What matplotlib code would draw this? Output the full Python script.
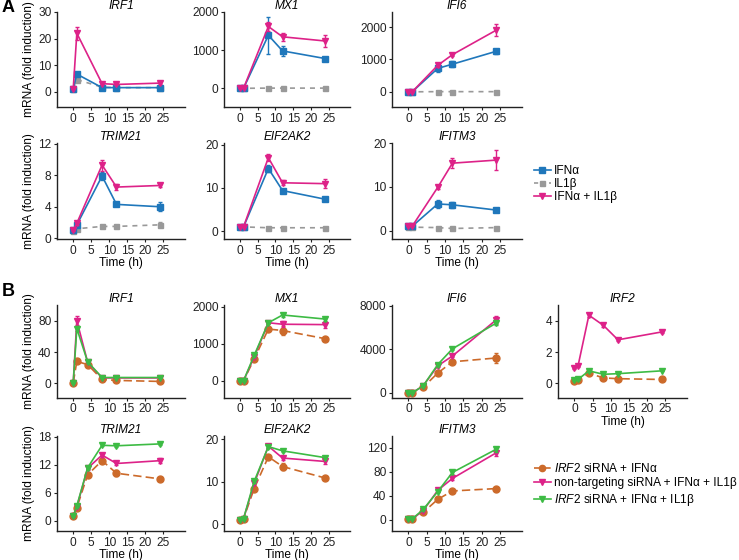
import matplotlib
matplotlib.use("Agg")
import matplotlib.pyplot as plt
from matplotlib.lines import Line2D

plt.rcParams["font.family"] = ["Liberation Sans", "DejaVu Sans"]
plt.rcParams["mathtext.fontset"] = "custom"
plt.rcParams["mathtext.rm"] = "Liberation Sans"
plt.rcParams["mathtext.it"] = "Liberation Sans:italic"

# ---- data: panel A (time course, 3 treatments) ----
A_TIMES = [0, 1, 8, 12, 24]
A_GENES = ["IRF1", "MX1", "IFI6", "TRIM21", "EIF2AK2", "IFITM3"]
A_IFNA = [
    [1, 6.6, 1.5, 1.5, 1.5],
    [0, 0, 1390, 980, 780],
    [0, 0, 725, 855, 1255],
    [1.0, 1.7, 7.9, 4.3, 4.0],
    [1, 1, 14.5, 9.4, 7.4],
    [1, 1, 6.1, 5.9, 4.7],
]
A_IFNA_ERR = [
    [0, 0.8, 0.2, 0.2, 0.2],
    [0, 0, 480, 130, 30],
    [0, 0, 110, 90, 70],
    [0.1, 0.1, 0.5, 0.25, 0.6],
    [0, 0, 0.8, 0.3, 0.2],
    [0, 0, 0.9, 0.7, 0.2],
]
A_IL1B = [
    [1, 4.5, 1.7, 1.5, 1.5],
    [0, 0, 5, 5, 5],
    [0, 0, 5, 5, 5],
    [0.9, 1.2, 1.5, 1.5, 1.7],
    [1, 1, 0.8, 0.8, 0.8],
    [0.8, 0.8, 0.7, 0.5, 0.7],
]
A_IL1B_ERR = [
    [0, 0.3, 0.1, 0.1, 0.1],
    [0, 0, 10, 10, 10],
    [0, 0, 10, 10, 10],
    [0.1, 0.1, 0.15, 0.1, 0.3],
    [0, 0, 0.1, 0.1, 0.1],
    [0, 0, 0.1, 0.1, 0.1],
]
A_COMBO = [
    [1, 22, 3.0, 2.7, 3.2],
    [0, 0, 1620, 1350, 1240],
    [0, 0, 820, 1150, 1910],
    [1.0, 1.9, 9.3, 6.5, 6.7],
    [1, 1, 17.0, 11.2, 11.0],
    [1, 1, 9.9, 15.4, 16.1],
]
A_COMBO_ERR = [
    [0, 2.4, 0.3, 0.3, 0.3],
    [0, 0, 130, 100, 160],
    [0, 0, 50, 40, 180],
    [0.1, 0.2, 0.7, 0.35, 0.2],
    [0, 0, 0.8, 0.6, 1.0],
    [0, 0, 0.3, 1.1, 2.2],
]

# ---- data: panel B (siRNA knockdown) ----
B_TIMES = [0, 1, 4, 8, 12, 24]
B_GENES = ["IRF1", "MX1", "IFI6", "IRF2", "TRIM21", "EIF2AK2", "IFITM3"]
B_SI_IFNA = [
    [1, 28, 24, 5, 3.8, 2.5],
    [0, 0, 590, 1400, 1360, 1140],
    [0, 0, 510, 1820, 2850, 3200],
    [0.17, 0.2, 0.65, 0.35, 0.3, 0.25],
    [1.0, 2.8, 9.9, 12.9, 10.2, 9.0],
    [1, 1.3, 8.4, 15.9, 13.6, 10.9],
    [1, 1, 12, 34, 48, 52],
]
B_SI_IFNA_ERR = [
    [0, 2, 1.5, 0.5, 0.5, 0.5],
    [0, 0, 40, 50, 120, 30],
    [0, 0, 50, 100, 80, 500],
    [0.02, 0.02, 0.08, 0.03, 0.03, 0.02],
    [0.1, 0.2, 0.4, 0.3, 0.6, 0.3],
    [0.1, 0.1, 0.4, 0.4, 0.9, 0.3],
    [0, 0, 1, 1.5, 2, 1.5],
]
B_NT_COMBO = [
    [1, 80, 27, 7, 7, 7],
    [0, 0, 650, 1570, 1530, 1520],
    [0, 0, 650, 2480, 3380, 6700],
    [0.96, 1.1, 4.35, 3.7, 2.78, 3.28],
    [1.0, 3.0, 11.3, 14.1, 12.3, 12.9],
    [1, 1.3, 9.6, 18.4, 15.6, 14.8],
    [1, 1, 15, 49, 69, 112],
]
B_NT_COMBO_ERR = [
    [0, 6, 1, 0.5, 0.5, 0.5],
    [0, 0, 30, 40, 80, 90],
    [0, 0, 50, 100, 120, 350],
    [0.03, 0.03, 0.12, 0.08, 0.06, 0.08],
    [0.1, 0.2, 0.3, 0.5, 0.4, 0.5],
    [0.1, 0.1, 0.3, 0.4, 0.5, 0.5],
    [0, 0, 1, 2, 3, 5],
]
B_SI_COMBO = [
    [1, 70, 27.5, 7.5, 7.5, 7.5],
    [0, 0, 690, 1570, 1780, 1670],
    [0, 0, 640, 2600, 4040, 6400],
    [0.2, 0.25, 0.8, 0.58, 0.62, 0.8],
    [1.0, 3.2, 11.4, 16.2, 16.1, 16.5],
    [1, 1.3, 10.1, 18.3, 17.3, 15.7],
    [1, 1, 17, 47, 79, 118],
]
B_SI_COMBO_ERR = [
    [0, 3, 1, 0.5, 0.5, 0.5],
    [0, 0, 30, 30, 50, 40],
    [0, 0, 40, 80, 80, 200],
    [0.02, 0.02, 0.05, 0.03, 0.03, 0.03],
    [0.1, 0.2, 0.3, 0.2, 0.2, 0.2],
    [0.1, 0.1, 0.3, 0.3, 0.3, 0.3],
    [0, 0, 1, 1.5, 2, 4],
]

# ---- layout (pixel boxes: left, top, right, bottom) ----
W, H = 739, 560
COLS = [(57, 185), (224, 350), (392, 522), (558, 687)]
A_ROWS = [(12, 107), (143, 239)]
B_ROWS = [(305, 397.5), (436, 531)]
A_CELLS = [(0, 0), (0, 1), (0, 2), (1, 0), (1, 1), (1, 2)]
B_CELLS = [(0, 0), (0, 1), (0, 2), (0, 3), (1, 0), (1, 1), (1, 2)]
A_YLIM = [(-5.8, 30), (-490, 2000), (-470, 2470), (-0.1, 12.1), (-1.8, 20.4), (-1.9, 20)]
A_YTICKS = [[0, 10, 20, 30], [0, 1000, 2000], [0, 1000, 2000], [0, 4, 8, 12], [0, 10, 20], [0, 10, 20]]
B_YLIM = [(-18, 100), (-450, 2050), (-420, 8050), (-0.9, 5), (-2.2, 18.2), (-1.6, 20.8), (-19, 140)]
B_YTICKS = [[0, 40, 80], [0, 1000, 2000], [0, 4000, 8000], [0, 2, 4], [0, 6, 12, 18], [0, 10, 20], [0, 40, 80, 120]]

BLUE = "#1f77bb"
GRAY = "#999999"
MAGENTA = "#dd2288"
ORANGE = "#cc6a2a"
GREEN = "#3dbb44"
FS = 8.6

fig = plt.figure(figsize=(W / 100, H / 100), dpi=100)


def make_ax(col, row):
    l, r = col
    t, b = row
    return fig.add_axes([l / W, 1 - b / H, (r - l) / W, (b - t) / H])


def style_ax(ax, gene, ylim, yticks, ylabel, xlabel):
    ax.set_xlim(-4.5, 31)
    ax.set_xticks([0, 5, 10, 15, 20, 25])
    ax.set_ylim(*ylim)
    ax.set_yticks(yticks)
    for s in ("top", "right"):
        ax.spines[s].set_visible(False)
    for s in ("left", "bottom"):
        ax.spines[s].set_color("#222222")
        ax.spines[s].set_linewidth(1.0)
    ax.tick_params(length=2.5, width=0.8, pad=1.5, labelsize=FS, colors="#222222")
    ax.set_title(gene, fontstyle="italic", fontsize=FS, pad=2)
    if ylabel:
        ax.set_ylabel("mRNA (fold induction)", fontsize=FS)
        ax.yaxis.set_label_coords(-0.175, 0.5)
    if xlabel:
        ax.set_xlabel("Time (h)", fontsize=FS, labelpad=0.5)


def series(ax, t, y, e, color, marker, ms, ls, z):
    ax.errorbar(t, y, yerr=e, color=color, marker=marker, markersize=ms,
                linestyle=ls, linewidth=1.2, elinewidth=1.0, capsize=1.6,
                capthick=1.0, zorder=z, dash_capstyle="butt")


# panel A
for i, gene in enumerate(A_GENES):
    r, c = A_CELLS[i]
    ax = make_ax(COLS[c], A_ROWS[r])
    series(ax, A_TIMES, A_IL1B[i], A_IL1B_ERR[i], GRAY, "s", 3.6, (0, (3, 3)), 2)
    series(ax, A_TIMES, A_IFNA[i], A_IFNA_ERR[i], BLUE, "s", 3.8, "-", 3)
    series(ax, A_TIMES, A_COMBO[i], A_COMBO_ERR[i], MAGENTA, "v", 5, "-", 4)
    style_ax(ax, gene, A_YLIM[i], A_YTICKS[i], c == 0, r == 1)

# panel B
for i, gene in enumerate(B_GENES):
    r, c = B_CELLS[i]
    ax = make_ax(COLS[c], B_ROWS[r])
    series(ax, B_TIMES, B_SI_IFNA[i], B_SI_IFNA_ERR[i], ORANGE, "o", 5, (0, (5, 2.5)), 2)
    series(ax, B_TIMES, B_NT_COMBO[i], B_NT_COMBO_ERR[i], MAGENTA, "v", 4.8, "-", 3)
    series(ax, B_TIMES, B_SI_COMBO[i], B_SI_COMBO_ERR[i], GREEN, "v", 4.8, "-", 4)
    style_ax(ax, gene, B_YLIM[i], B_YTICKS[i], c == 0, r == 1 or c == 3)

fig.text(2 / W, 1 - 7 / H, "A", fontsize=13, fontweight="bold", va="center", ha="left")
fig.text(2 / W, 1 - 292 / H, "B", fontsize=13, fontweight="bold", va="center", ha="left")

# legends
leg_a = [
    Line2D([], [], color=BLUE, marker="s", ms=3.8, lw=1.2),
    Line2D([], [], color=GRAY, marker="s", ms=3.6, lw=1.2, ls=(0, (2.5, 2))),
    Line2D([], [], color=MAGENTA, marker="v", ms=5, lw=1.2),
]
fig.legend(leg_a, ["IFNα", "IL1β", "IFNα + IL1β"], loc="upper left",
           bbox_to_anchor=(534 / W, 1 - 165 / H), frameon=False, fontsize=FS,
           handlelength=1.4, handletextpad=0.25, labelspacing=0.1, borderpad=0,
           borderaxespad=0)

leg_b = [
    Line2D([], [], color=ORANGE, marker="o", ms=4.5, lw=1.2, ls=(0, (4, 2))),
    Line2D([], [], color=MAGENTA, marker="v", ms=4.8, lw=1.2),
    Line2D([], [], color=GREEN, marker="v", ms=4.8, lw=1.2),
]
fig.legend(leg_b, [r"$\mathit{IRF2}$ siRNA + IFNα",
                   "non-targeting siRNA + IFNα + IL1β",
                   r"$\mathit{IRF2}$ siRNA + IFNα + IL1β"],
           loc="upper left", bbox_to_anchor=(534 / W, 1 - 462 / H), frameon=False,
           fontsize=FS, handlelength=1.4, handletextpad=0.25, labelspacing=0.2,
           borderpad=0, borderaxespad=0)

fig.savefig("out.png", dpi=100)
